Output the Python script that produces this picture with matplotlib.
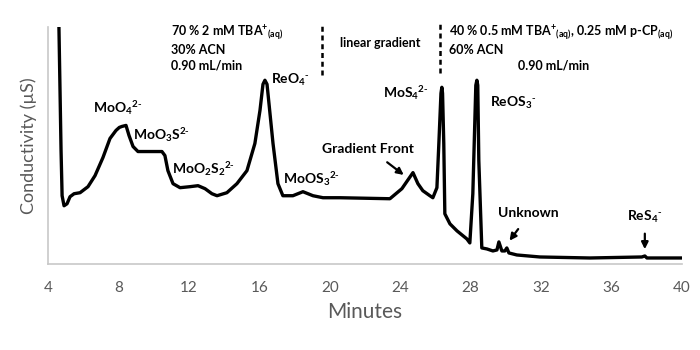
import matplotlib
matplotlib.use("Agg")
import matplotlib.pyplot as plt

plt.rcParams['font.family'] = ['Lato', 'DejaVu Sans']
plt.rcParams['mathtext.default'] = 'regular'

# chromatogram trace, minutes vs conductivity (arbitrary units)
minutes = [4.57, 4.62, 4.74, 4.80, 4.91, 5.08, 5.25, 5.48, 5.82, 6.27, 6.67,
           7.12, 7.52, 7.86, 8.05, 8.20, 8.43, 8.60, 8.83, 9.11, 9.79, 10.47, 10.64,
           10.81, 11.10, 11.50, 12.06, 12.52, 12.92, 13.31, 13.60, 14.16, 14.73,
           15.30, 15.75, 16.04, 16.21, 16.32, 16.44, 16.55, 16.78, 17.06, 17.34,
           17.91, 18.48, 19.05, 19.62, 20.58, 23.42, 24.10, 24.73, 25.01, 25.29,
           25.69, 25.86, 26.09, 26.20, 26.32, 26.37, 26.41, 26.48, 26.54, 26.83,
           27.23, 27.79, 27.96, 28.13, 28.30, 28.36, 28.41, 28.47, 28.64, 28.93,
           29.27, 29.50, 29.61, 29.78, 29.95, 30.06, 30.18, 30.63, 31.94, 34.78,
           37.73, 37.90, 38.02, 40.0]
signal = [283, 236, 113, 68, 58, 60, 67, 70, 71, 77, 88,
          106, 125, 133, 136, 137, 138, 128, 117, 112, 112, 112, 108,
          93, 80, 76, 77, 78, 75, 70, 68, 71, 80,
          93, 120, 153, 179, 183, 179, 160, 120, 80, 68,
          68, 72, 68, 66, 66, 65, 75, 91, 80, 73,
          68, 66, 76, 120, 170, 176, 170, 120, 50, 40,
          33, 25, 21, 70, 178, 183, 178, 103, 16, 15,
          13, 14, 22, 13, 13, 16, 11, 9, 7, 6,
          7, 8, 6, 6]

xticks = [4, 8, 12, 16, 20, 24, 28, 32, 36, 40]

fig = plt.figure(figsize=(7, 3.5), dpi=100)
ax = fig.add_axes([0.0686, 0.2457, 0.9054, 0.6771])

ax.plot(minutes, signal, color='black', lw=2.4, solid_joinstyle='round',
        solid_capstyle='round')
ax.set_xlim(4, 40)
ax.set_ylim(0, 236)
ax.set_xticks(xticks)
ax.set_yticks([])
ax.tick_params(axis='x', length=0, pad=12, labelsize=11, labelcolor='#595959')
for s in ['top', 'right']:
    ax.spines[s].set_visible(False)
for s in ['left', 'bottom']:
    ax.spines[s].set_color('#c8c8c8')
    ax.spines[s].set_linewidth(1.2)

ax.set_xlabel('Minutes', fontsize=15, color='#595959', labelpad=5)
ax.set_ylabel('Conductivity (µS)', fontsize=13, color='#595959', labelpad=8)

lab_kw = dict(fontsize=10, fontweight='bold', va='center', ha='left')
ax.text(6.56, 155, r'MoO$_4$$^{2\text{-}}$', **lab_kw)
ax.text(8.83, 128, r'MoO$_3$S$^{2\text{-}}$', **lab_kw)
ax.text(11.04, 95, r'MoO$_2$S$_2$$^{2\text{-}}$', **lab_kw)
ax.text(16.66, 183, r'ReO$_4$$^{\text{-}}$', **lab_kw)
ax.text(17.34, 85, r'MoOS$_3$$^{2\text{-}}$', **lab_kw)
ax.text(23.02, 170, r'MoS$_4$$^{2\text{-}}$', **lab_kw)
ax.text(29.10, 160, r'ReOS$_3$$^{\text{-}}$', **lab_kw)
ax.text(19.56, 115, 'Gradient Front', **lab_kw)
ax.text(29.55, 51, 'Unknown', **lab_kw)
ax.text(36.88, 47, r'ReS$_4$$^{\text{-}}$', **lab_kw)

arr = dict(arrowstyle='-|>', color='black', lw=1.6, mutation_scale=10)
ax.annotate('', xy=(24.33, 87), xytext=(23.14, 103), arrowprops=arr)
ax.annotate('', xy=(30.12, 21), xytext=(30.80, 37), arrowprops=arr)
ax.annotate('', xy=(37.90, 12), xytext=(37.90, 33), arrowprops=arr)

# eluent conditions
top_kw = dict(fontsize=9, fontweight='bold', va='center', ha='left')
ax.text(10.98, 230, r'70 % 2 mM TBA$^{+}$$_{(aq)}$', **top_kw)
ax.text(10.98, 213, '30% ACN', **top_kw)
ax.text(10.98, 198, '0.90 mL/min', **top_kw)
ax.text(20.58, 220, 'linear gradient', **top_kw)
ax.text(26.75, 230, r'40 % 0.5 mM TBA$^{+}$$_{(aq)}$, 0.25 mM p-CP$_{(aq)}$', **top_kw)
ax.text(26.75, 213, '60% ACN', **top_kw)
ax.text(30.69, 198, '0.90 mL/min', **top_kw)

ax.plot([19.56, 19.56], [188, 240], color='black', lw=1.8,
        ls=(0, (2, 1.5)), clip_on=False)
ax.plot([26.26, 26.26], [190, 240], color='black', lw=1.8,
        ls=(0, (2, 1.5)), clip_on=False)

fig.savefig('out.png', dpi=100)
